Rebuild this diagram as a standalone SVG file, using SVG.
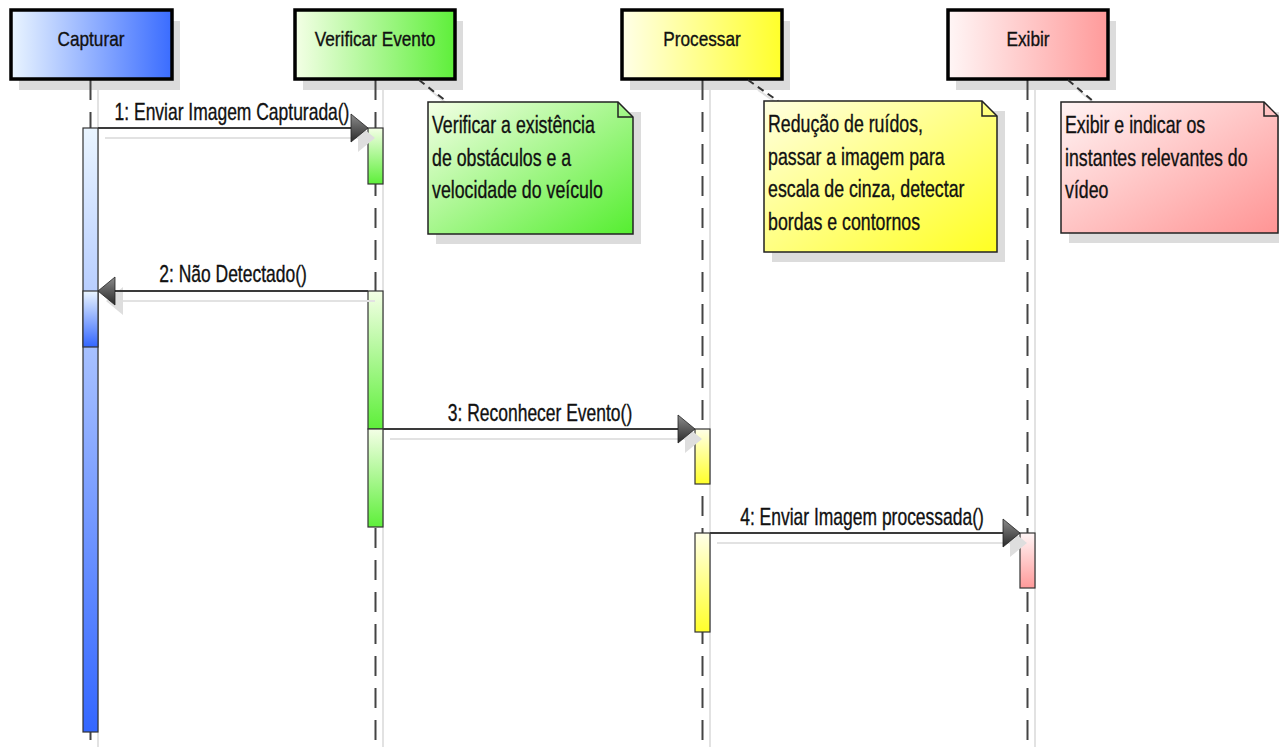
<svg xmlns="http://www.w3.org/2000/svg" xmlns:xlink="http://www.w3.org/1999/xlink" width="1279" height="747" viewBox="0 0 1279 747">
<style>
.t{font-family:"Liberation Sans",Arial,sans-serif;fill:#111;stroke:#111;stroke-width:0.35;}
.hd{font-size:21px;}
.ml{font-size:23px;}
.nt{font-size:24px;}
.box{stroke:#000;stroke-width:3.5;}
.shd{fill:#dcdcdc;}
.sl{stroke:#e2e2e2;stroke-width:2;fill:none;}
.life{stroke:#444;stroke-width:2;stroke-dasharray:20 12;fill:none;}
.act{stroke:#333;stroke-width:1.2;}
.msg{stroke:#3a3a3a;stroke-width:2;fill:none;}
.ah{fill:url(#gArrow);stroke:#222;stroke-width:0.8;}
.ahs{fill:#dedede;}
.note{stroke:#222;stroke-width:1.5;}
.fold{fill:none;stroke:#222;stroke-width:1.5;}
.nc{stroke:#333;stroke-width:2;stroke-dasharray:7 5;fill:none;}
</style>
<defs>
<linearGradient id="gCap" x1="0" y1="0" x2="1" y2="0"><stop offset="0" stop-color="#eaf5ff"/><stop offset="1" stop-color="#3a6cff"/></linearGradient>
<linearGradient id="gVer" x1="0" y1="0" x2="1" y2="0"><stop offset="0" stop-color="#f4ffe6"/><stop offset="1" stop-color="#5eef3a"/></linearGradient>
<linearGradient id="gPro" x1="0" y1="0" x2="1" y2="0"><stop offset="0" stop-color="#ffffe8"/><stop offset="1" stop-color="#ffff2a"/></linearGradient>
<linearGradient id="gExi" x1="0" y1="0" x2="1" y2="0"><stop offset="0" stop-color="#fff6f6"/><stop offset="1" stop-color="#ff9a9a"/></linearGradient>
<linearGradient id="vCap" x1="0" y1="0" x2="0" y2="1"><stop offset="0" stop-color="#eaf5ff"/><stop offset="1" stop-color="#3366ff"/></linearGradient>
<linearGradient id="vVer" x1="0" y1="0" x2="0" y2="1"><stop offset="0" stop-color="#f4ffe6"/><stop offset="1" stop-color="#5eef3a"/></linearGradient>
<linearGradient id="vPro" x1="0" y1="0" x2="0" y2="1"><stop offset="0" stop-color="#ffffe8"/><stop offset="1" stop-color="#ffff2a"/></linearGradient>
<linearGradient id="vExi" x1="0" y1="0" x2="0" y2="1"><stop offset="0" stop-color="#fff6f6"/><stop offset="1" stop-color="#ff9a9a"/></linearGradient>
<linearGradient id="nVer" x1="0" y1="0" x2="1" y2="1"><stop offset="0" stop-color="#f4ffe6"/><stop offset="1" stop-color="#55ee30"/></linearGradient>
<linearGradient id="nPro" x1="0" y1="0" x2="1" y2="1"><stop offset="0" stop-color="#ffffe0"/><stop offset="1" stop-color="#ffff22"/></linearGradient>
<linearGradient id="nExi" x1="0" y1="0" x2="1" y2="1"><stop offset="0" stop-color="#fff4f4"/><stop offset="1" stop-color="#ff9494"/></linearGradient>
<linearGradient id="gArrow" x1="0" y1="0" x2="0" y2="1"><stop offset="0" stop-color="#8c8c8c"/><stop offset="1" stop-color="#2a2a2a"/></linearGradient>
<polygon id="ahR" points="-17,-14 0,0 -17,14"/>
<polygon id="ahL" points="17,-14 0,0 17,14"/>
</defs>
<rect width="1279" height="747" fill="#fff"/>

<g id="lifeline-shadows">
<line class="sl" x1="98" y1="90" x2="98" y2="747"/>
<line class="sl" x1="383" y1="90" x2="383" y2="747"/>
<line class="sl" x1="710" y1="90" x2="710" y2="747"/>
<line class="sl" x1="1035" y1="90" x2="1035" y2="747"/>
</g>

<g id="Capturar">
<rect class="shd" x="19" y="21" width="161" height="69"/>
<line class="life" x1="90.5" y1="80" x2="90.5" y2="740"/>
<rect class="box" x="11" y="10" width="161" height="69" fill="url(#gCap)"/>
<text class="t hd" text-anchor="middle" transform="translate(91,46) scale(0.82,1)">Capturar</text>
<rect class="act" x="83" y="128" width="15" height="604" fill="url(#vCap)"/>
<rect class="act" x="83" y="291" width="15" height="56" fill="url(#vCap)"/>
</g>

<g id="VerificarEvento">
<rect class="shd" x="303" y="21" width="160" height="69"/>
<line class="life" x1="375.5" y1="80" x2="375.5" y2="747"/>
<rect class="box" x="295" y="10" width="160" height="69" fill="url(#gVer)"/>
<text class="t hd" text-anchor="middle" transform="translate(375,46) scale(0.82,1)">Verificar Evento</text>
<rect class="act" x="368" y="128" width="15" height="56" fill="url(#vVer)"/>
<rect class="act" x="368" y="291" width="15" height="138" fill="url(#vVer)"/>
<rect class="act" x="368" y="429" width="15" height="98" fill="url(#vVer)"/>
</g>

<g id="Processar">
<rect class="shd" x="630" y="21" width="160" height="69"/>
<line class="life" x1="702.5" y1="80" x2="702.5" y2="747"/>
<rect class="box" x="622" y="10" width="160" height="69" fill="url(#gPro)"/>
<text class="t hd" text-anchor="middle" transform="translate(702,46) scale(0.82,1)">Processar</text>
<rect class="act" x="695" y="429" width="15" height="55" fill="url(#vPro)"/>
<rect class="act" x="695" y="533" width="15" height="99" fill="url(#vPro)"/>
</g>

<g id="Exibir">
<rect class="shd" x="956" y="21" width="160" height="69"/>
<line class="life" x1="1027.5" y1="80" x2="1027.5" y2="747"/>
<rect class="box" x="948" y="10" width="160" height="69" fill="url(#gExi)"/>
<text class="t hd" text-anchor="middle" transform="translate(1028,46) scale(0.82,1)">Exibir</text>
<rect class="act" x="1020" y="533" width="15" height="55" fill="url(#vExi)"/>
</g>

<g id="connectors">
<line class="sl" x1="105" y1="138" x2="358" y2="138"/>
<use href="#ahR" class="ahs" x="375" y="138"/>
<line class="sl" x1="122" y1="301" x2="375" y2="301"/>
<use href="#ahL" class="ahs" x="106" y="301"/>
<line class="sl" x1="390" y1="439" x2="685" y2="439"/>
<use href="#ahR" class="ahs" x="702" y="439"/>
<line class="sl" x1="717" y1="543" x2="1010" y2="543"/>
<use href="#ahR" class="ahs" x="1027" y="543"/>
<line class="msg" x1="98" y1="128" x2="352" y2="128"/>
<use href="#ahR" class="ah" x="368" y="128"/>
<line class="msg" x1="368" y1="291" x2="114" y2="291"/>
<use href="#ahL" class="ah" x="98" y="291"/>
<line class="msg" x1="383" y1="429" x2="679" y2="429"/>
<use href="#ahR" class="ah" x="695" y="429"/>
<line class="msg" x1="710" y1="533" x2="1004" y2="533"/>
<use href="#ahR" class="ah" x="1020" y="533"/>
<text class="t ml" text-anchor="middle" transform="translate(232,120) scale(0.76,1)">1: Enviar Imagem Capturada()</text>
<text class="t ml" text-anchor="middle" transform="translate(233,282) scale(0.76,1)">2: Não Detectado()</text>
<text class="t ml" text-anchor="middle" transform="translate(540,421) scale(0.76,1)">3: Reconhecer Evento()</text>
<text class="t ml" text-anchor="middle" transform="translate(862,525) scale(0.76,1)">4: Enviar Imagem processada()</text>
<line class="sl" x1="430" y1="90" x2="452" y2="108"/>
<line class="nc" x1="419" y1="80" x2="446" y2="101"/>
<line class="sl" x1="758" y1="90" x2="784" y2="108"/>
<line class="nc" x1="748" y1="80" x2="778" y2="101"/>
<line class="sl" x1="1078" y1="90" x2="1100" y2="108"/>
<line class="nc" x1="1068" y1="80" x2="1093" y2="101"/>
</g>

<g id="note-verificar">
<rect class="shd" x="436" y="112" width="205" height="132"/>
<path class="note" d="M428,102 H618 L633,117 V234 H428 Z" fill="url(#nVer)"/>
<path class="fold" d="M618,102 V117 H633"/>
<text class="t nt" transform="translate(432,133) scale(0.74,1)">Verificar a existência</text>
<text class="t nt" transform="translate(432,165.5) scale(0.74,1)">de obstáculos e a</text>
<text class="t nt" transform="translate(432,198) scale(0.74,1)">velocidade do veículo</text>
</g>

<g id="note-processar">
<rect class="shd" x="772" y="111" width="233" height="151"/>
<path class="note" d="M764,101 H982 L997,116 V252 H764 Z" fill="url(#nPro)"/>
<path class="fold" d="M982,101 V116 H997"/>
<text class="t nt" transform="translate(768,132) scale(0.74,1)">Redução de ruídos,</text>
<text class="t nt" transform="translate(768,164.5) scale(0.74,1)">passar a imagem para</text>
<text class="t nt" transform="translate(768,197) scale(0.74,1)">escala de cinza, detectar</text>
<text class="t nt" transform="translate(768,229.5) scale(0.74,1)">bordas e contornos</text>
</g>

<g id="note-exibir">
<rect class="shd" x="1069" y="112" width="217" height="131"/>
<path class="note" d="M1061,102 H1264 L1278,116 V233 H1061 Z" fill="url(#nExi)"/>
<path class="fold" d="M1264,102 V116 H1278"/>
<text class="t nt" transform="translate(1065,133) scale(0.74,1)">Exibir e indicar os</text>
<text class="t nt" transform="translate(1065,165.5) scale(0.74,1)">instantes relevantes do</text>
<text class="t nt" transform="translate(1065,198) scale(0.74,1)">vídeo</text>
</g>
</svg>
